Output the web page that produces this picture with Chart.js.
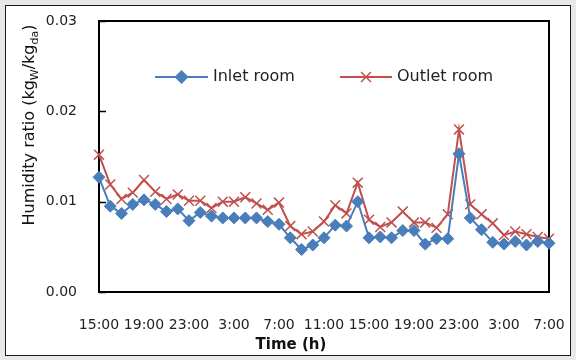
<!DOCTYPE html>
<html>
<head>
<meta charset="utf-8">
<script src="https://cdn.jsdelivr.net/npm/chart.js@4/dist/chart.umd.min.js"></script>
<style>
  html, body { margin: 0; padding: 0; background: #e8e8e8; }
  #wrap { position: relative; width: 576px; height: 360px; }
  #box { position: absolute; left: 5px; top: 5px; width: 564px; height: 349px;
         border: 1.5px solid #1a1a1a; background: #ffffff; }
  #c { position: absolute; left: 0; top: 0; }
</style>
</head>
<body>
<div id="wrap">
  <div id="box"></div>
  <canvas id="c" width="576" height="360"></canvas>
</div>
<script>
// Hourly readings, 15:00 on day 1 through 7:00 on day 3
const times = [
  '15:00','16:00','17:00','18:00','19:00','20:00','21:00','22:00','23:00','0:00',
  '1:00','2:00','3:00','4:00','5:00','6:00','7:00','8:00','9:00','10:00',
  '11:00','12:00','13:00','14:00','15:00','16:00','17:00','18:00','19:00','20:00',
  '21:00','22:00','23:00','0:00','1:00','2:00','3:00','4:00','5:00','6:00','7:00'
];

// Humidity ratio, kg water per kg dry air
const inletRoom = [
  0.0127, 0.0095, 0.0087, 0.0097, 0.0102, 0.0097, 0.0089, 0.0092, 0.0079, 0.0088,
  0.0084, 0.0082, 0.0082, 0.0082, 0.0082, 0.0078, 0.0075, 0.0060, 0.0047, 0.0052,
  0.0060, 0.0074, 0.0073, 0.0100, 0.0060, 0.0061, 0.0060, 0.0068, 0.0068, 0.0053,
  0.0059, 0.0059, 0.0153, 0.0082, 0.0069, 0.0055, 0.0053, 0.0056, 0.0052, 0.0056,
  0.0054
];
const outletRoom = [
  0.0152, 0.0119, 0.0103, 0.0110, 0.0124, 0.0111, 0.0103, 0.0108, 0.0101, 0.0101,
  0.0093, 0.0100, 0.0100, 0.0105, 0.0098, 0.0091, 0.0099, 0.0073, 0.0064, 0.0067,
  0.0078, 0.0096, 0.0087, 0.0121, 0.0080, 0.0072, 0.0077, 0.0089, 0.0077, 0.0077,
  0.0071, 0.0086, 0.0180, 0.0097, 0.0086, 0.0076, 0.0063, 0.0067, 0.0064, 0.0061,
  0.0059
];

const yTicks = [0, 0.01, 0.02, 0.03];
const seriesNames = ['Inlet room', 'Outlet room'];

const BLUE = '#4a7ebb';
const RED = '#c0504d';
const FONT = '"DejaVu Sans", "Noto Sans", sans-serif';

// Plot frame and inward tick marks on the value axis
const framePlugin = {
  id: 'frame',
  beforeDatasetsDraw(chart) {
    const { ctx, chartArea: a, scales } = chart;
    ctx.save();
    ctx.strokeStyle = '#000';
    ctx.lineWidth = 2;
    ctx.strokeRect(a.left, a.top, a.right - a.left, a.bottom - a.top);
    ctx.lineWidth = 1.5;
    yTicks.forEach(v => {
      const y = Math.round(scales.y.getPixelForValue(v)) + 0.5;
      ctx.beginPath();
      ctx.moveTo(a.left, y);
      ctx.lineTo(a.left + 7, y);
      ctx.stroke();
    });
    ctx.restore();
  }
};

// Axis titles and the legend inside the plot
const labelsPlugin = {
  id: 'labels',
  afterDraw(chart) {
    const { ctx } = chart;
    ctx.save();
    ctx.fillStyle = '#111';

    // x-axis title
    ctx.font = 'bold 15px ' + FONT;
    ctx.textAlign = 'center';
    ctx.textBaseline = 'middle';
    ctx.fillText('Time (h)', 291, 345);

    // y-axis title with subscripts
    const parts = [
      ['Humidity ratio (kg', false], ['W', true], ['/kg', false], ['da', true], [')', false]
    ];
    const big = '16px ' + FONT, small = '11px ' + FONT;
    let total = 0;
    parts.forEach(([t, sub]) => { ctx.font = sub ? small : big; total += ctx.measureText(t).width; });
    ctx.translate(30, 125);
    ctx.rotate(-Math.PI / 2);
    ctx.textAlign = 'left';
    ctx.textBaseline = 'middle';
    let x = -total / 2;
    parts.forEach(([t, sub]) => {
      ctx.font = sub ? small : big;
      ctx.fillText(t, x, sub ? 5 : 0);
      x += ctx.measureText(t).width;
    });
    ctx.setTransform(1, 0, 0, 1, 0, 0);

    // legend
    const items = [
      { x0: 155, x1: 208, color: BLUE, style: 'rectRot', r: 6, name: seriesNames[0] },
      { x0: 340, x1: 392, color: RED, style: 'crossRot', r: 7, name: seriesNames[1] }
    ];
    const ly = 77;
    items.forEach(it => {
      ctx.strokeStyle = it.color;
      ctx.fillStyle = it.color;
      ctx.lineWidth = 2;
      ctx.beginPath();
      ctx.moveTo(it.x0, ly);
      ctx.lineTo(it.x1, ly);
      ctx.stroke();
      ctx.lineWidth = 1.5;
      Chart.helpers.drawPoint(ctx, { pointStyle: it.style, radius: it.r, rotation: 0, borderWidth: 1.5 },
        (it.x0 + it.x1) / 2, ly);
      ctx.fillStyle = '#222';
      ctx.font = '16px ' + FONT;
      ctx.textAlign = 'left';
      ctx.textBaseline = 'middle';
      ctx.fillText(it.name, it.x1 + 5, ly);
    });
    ctx.restore();
  }
};

new Chart(document.getElementById('c'), {
  type: 'line',
  data: {
    labels: times,
    datasets: [
      {
        label: seriesNames[0],
        data: inletRoom,
        borderColor: BLUE,
        backgroundColor: BLUE,
        borderWidth: 2,
        pointStyle: 'rectRot',
        pointRadius: 6,
        pointBorderWidth: 1,
        pointBackgroundColor: BLUE,
        pointBorderColor: BLUE,
        tension: 0,
        clip: false
      },
      {
        label: seriesNames[1],
        data: outletRoom,
        borderColor: RED,
        backgroundColor: RED,
        borderWidth: 2,
        pointStyle: 'crossRot',
        pointRadius: 7,
        pointBorderWidth: 1.5,
        pointBorderColor: RED,
        tension: 0,
        clip: false
      }
    ]
  },
  options: {
    responsive: false,
    animation: false,
    layout: { autoPadding: false, padding: { top: 21, right: 27, left: 0, bottom: 0 } },
    plugins: { legend: { display: false }, tooltip: { enabled: false } },
    scales: {
      x: {
        type: 'category',
        offset: false,
        grid: { display: false, drawTicks: false },
        border: { display: false },
        afterFit(s) { s.height = 68; s.paddingLeft = 0; s.paddingRight = 0; },
        ticks: {
          autoSkip: false,
          maxRotation: 0,
          minRotation: 0,
          padding: 25,
          color: '#222',
          font: { family: FONT, size: 14 },
          callback(v, i) { return i % 4 === 0 ? times[i] : ''; }
        }
      },
      y: {
        min: 0,
        max: 0.03,
        grid: { display: false, drawTicks: false },
        border: { display: false },
        afterFit(s) { s.width = 99; s.paddingTop = 0; s.paddingBottom = 0; },
        afterBuildTicks(s) { s.ticks = yTicks.map(v => ({ value: v })); },
        ticks: {
          padding: 22,
          color: '#222',
          font: { family: FONT, size: 14 },
          callback(v) { return Number(v).toFixed(2); }
        }
      }
    }
  },
  plugins: [framePlugin, labelsPlugin]
});
</script>
</body>
</html>
